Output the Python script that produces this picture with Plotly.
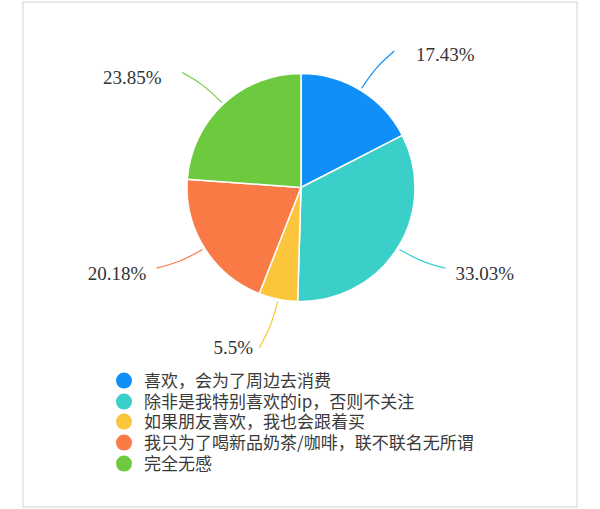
import plotly.graph_objects as go

# 各选项占比（%）
categories = [
    "喜欢，会为了周边去消费",
    "除非是我特别喜欢的ip，否则不关注",
    "如果朋友喜欢，我也会跟着买",
    "我只为了喝新品奶茶/咖啡，联不联名无所谓",
    "完全无感",
]
shares = [17.43, 33.03, 5.5, 20.18, 23.85]
colors = ["#0f8ff7", "#3acfc9", "#fbc53c", "#f97a45", "#6dca3f"]

W, H = 600, 509
CX, CY, R = 301, 187.5, 114      # 饼图中心和半径（像素）
RMAX = 1.6                        # 极坐标半径范围，用来画引导线和标签

fig = go.Figure()

fig.add_trace(go.Pie(
    labels=categories,
    values=shares,
    textinfo="none",
    sort=False,
    direction="clockwise",
    rotation=0,
    marker=dict(colors=colors, line=dict(color="white", width=1.5)),
    domain=dict(x=[(CX - R) / W, (CX + R) / W], y=[1 - (CY + R) / H, 1 - (CY - R) / H]),
    showlegend=False,
    hoverinfo="label+percent",
))

# 引导线 + 百分比标签，放在和饼图重合的极坐标上
total = sum(shares)
cum = 0
for v, c in zip(shares, colors):
    mid = (cum + v / 2) / total * 360
    cum += v
    # 线尾稍微往水平方向弯
    q = int(mid // 90)
    bend = 3 if q in (0, 2) else -3
    end = mid + bend
    fig.add_trace(go.Scatterpolar(
        r=[1.02, 1.25, 1.45], theta=[mid, mid + bend / 3, end],
        mode="lines", line=dict(color=c, width=1.2, shape="spline"),
        showlegend=False, hoverinfo="skip",
    ))
    right = (end % 360) < 180
    # 标签比线尾略低一点
    tpos = end + 3 if right else end - 3
    fig.add_trace(go.Scatterpolar(
        r=[1.45], theta=[tpos], mode="markers+text",
        text=[f"{v}%"],
        textposition="middle right" if right else "middle left",
        textfont=dict(family="Liberation Serif", size=19, color="#333333"),
        marker=dict(size=22, opacity=0),
        cliponaxis=False, showlegend=False, hoverinfo="skip",
    ))

# 图例：每项一个 legend，控制行距
legend_rows = [381, 402, 422, 443, 464]
legends = {}
for i, (name, c, yrow) in enumerate(zip(categories, colors, legend_rows)):
    key = "legend" if i == 0 else f"legend{i + 1}"
    fig.add_trace(go.Scatter(
        x=[None], y=[None], mode="markers", name=name, legend=key,
        marker=dict(symbol="circle", size=17, color=c),
    ))
    legends[key] = dict(
        x=104 / W, y=1 - yrow / H, xanchor="left", yanchor="middle",
        font=dict(family="Noto Sans CJK SC", size=17, color="#3a3a3a"),
        bgcolor="rgba(0,0,0,0)",
    )

pr = R * RMAX
fig.update_layout(
    width=W, height=H,
    margin=dict(l=0, r=0, t=0, b=0),
    paper_bgcolor="white",
    plot_bgcolor="white",
    xaxis=dict(visible=False),
    yaxis=dict(visible=False),
    polar=dict(
        domain=dict(x=[(CX - pr) / W, (CX + pr) / W], y=[1 - (CY + pr) / H, 1 - (CY - pr) / H]),
        bgcolor="rgba(0,0,0,0)",
        radialaxis=dict(visible=False, range=[0, RMAX]),
        angularaxis=dict(visible=False, rotation=90, direction="clockwise"),
    ),
    shapes=[dict(
        type="rect", xref="paper", yref="paper",
        x0=23 / W, x1=577 / W, y0=1 - 507 / H, y1=1 - 2 / H,
        line=dict(color="#e2e2e2", width=1.5),
    )],
    **legends,
)

fig.write_html("out.html", config={"displayModeBar": False},
               post_script="document.body.style.margin='0';")
